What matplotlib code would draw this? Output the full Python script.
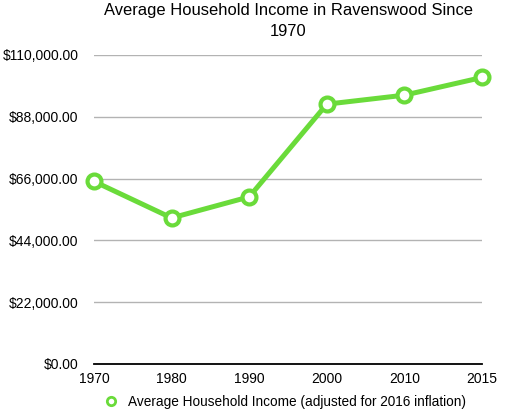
import matplotlib
matplotlib.use("Agg")
import matplotlib.pyplot as plt
from matplotlib.ticker import FuncFormatter

years = ["1970", "1980", "1990", "2000", "2010", "2015"]
income = [65000, 52000, 59500, 92500, 95700, 102000]
yticks = [0, 22000, 44000, 66000, 88000, 110000]
series_label = "Average Household Income (adjusted for 2016 inflation)"
title = "Average Household Income in Ravenswood Since\n1970"

plt.rcParams['font.family'] = ['Liberation Sans', 'DejaVu Sans']
green = "#6ADB3A"

fig = plt.figure(figsize=(5.31, 4.2), dpi=100)
ax = fig.add_axes([94/531, 1 - 364/420, (482-94)/531, (364-55)/420])

x = list(range(len(years)))
ax.plot(x, income, color=green, lw=3.6, marker='o', markersize=10,
        markerfacecolor='white', markeredgecolor=green, markeredgewidth=3,
        clip_on=False, zorder=5, label=series_label)

ax.set_xlim(0, len(years) - 1)
ax.set_ylim(0, 110000)
ax.set_yticks(yticks)
ax.yaxis.set_major_formatter(FuncFormatter(lambda v, p: f"${v:,.2f}"))
ax.set_xticks(x)
ax.set_xticklabels(years)
ax.grid(axis='y', color='#b3b3b3', lw=1)
ax.set_axisbelow(True)
for s in ['top', 'right', 'left']:
    ax.spines[s].set_visible(False)
ax.spines['bottom'].set_color('black')
ax.spines['bottom'].set_linewidth(1.3)
ax.spines['bottom'].set_zorder(3)
ax.tick_params(axis='both', length=0, labelsize=10, colors='black')
ax.tick_params(axis='y', pad=11)
ax.tick_params(axis='x', pad=6)

ax.set_title(title, fontsize=11.9, pad=14, linespacing=1.45)

leg = fig.legend(loc='center', bbox_to_anchor=(285/531, 1 - 402/420), frameon=False,
                 fontsize=9.8, handlelength=1.0, handletextpad=0.8)
for h in leg.legend_handles:
    h.set_linestyle('none')
    h.set_markersize(6)
    h.set_markeredgewidth(2)

fig.savefig("out.png", dpi=100)
